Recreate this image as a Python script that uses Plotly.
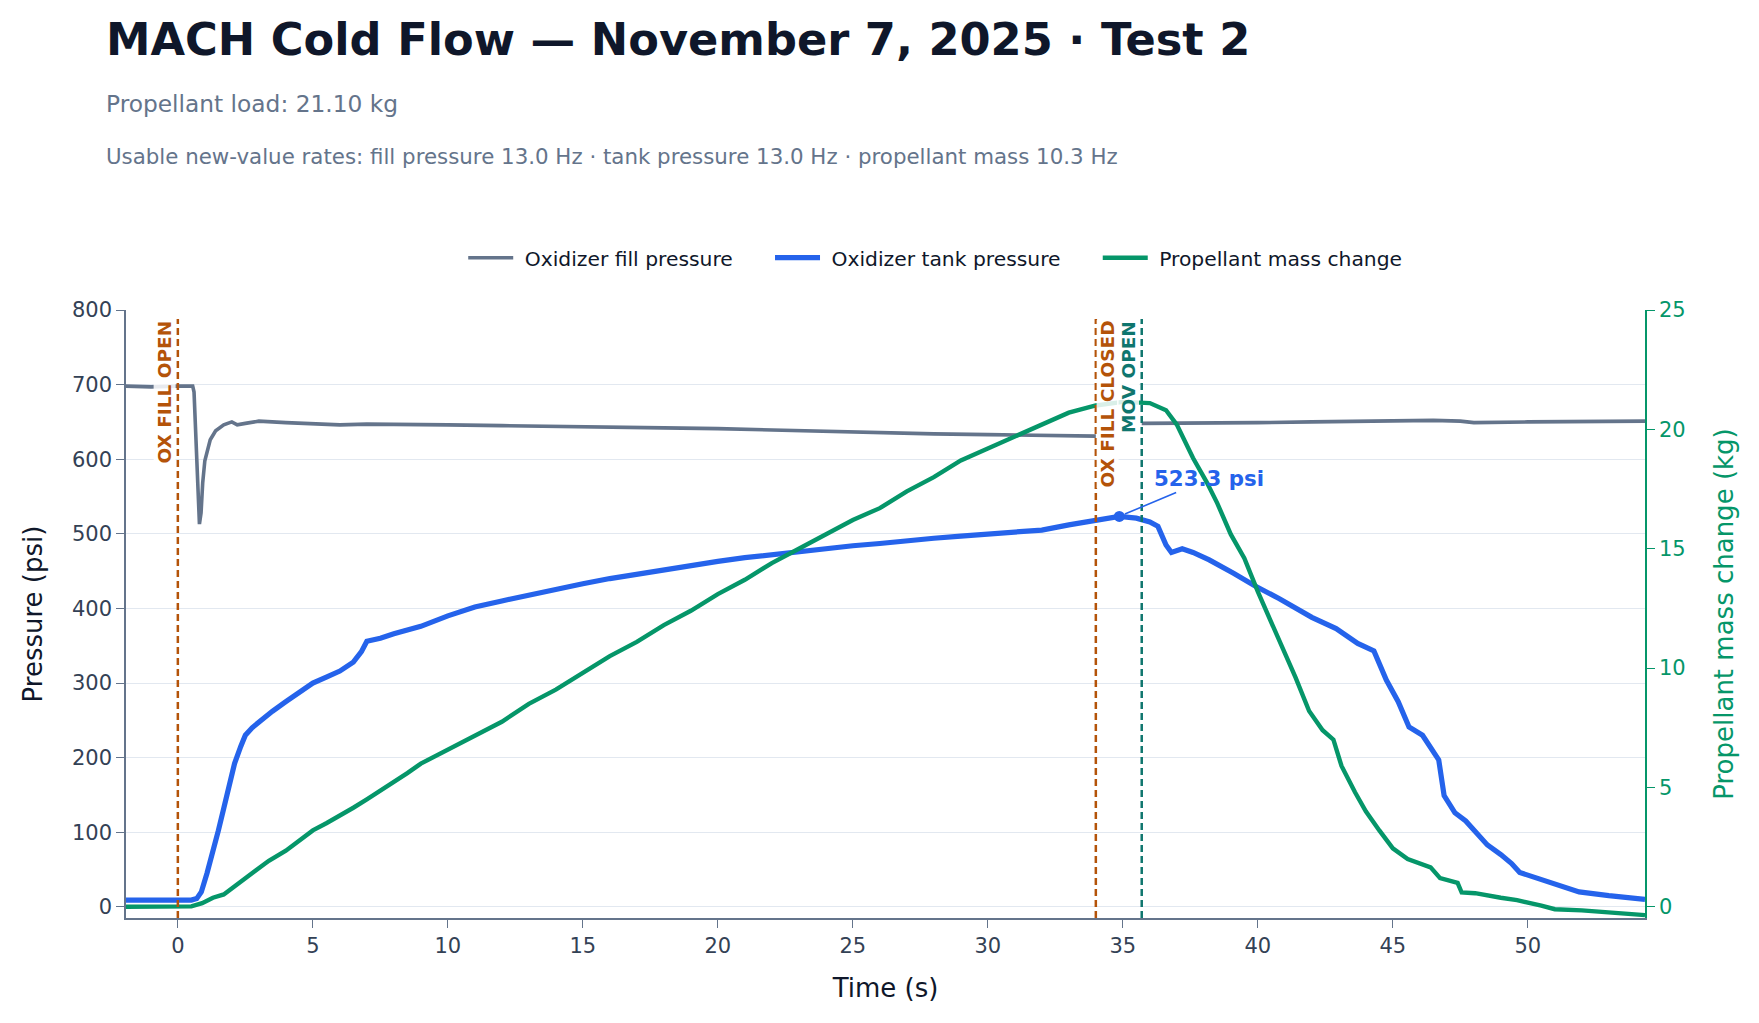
import plotly.graph_objects as go

# --- data ---
fill_t = [-1.95, -1.0, 0.0, 0.55, 0.6, 0.65, 0.72, 0.8, 0.86, 0.92, 1.0, 1.2, 1.4, 1.7, 2.0, 2.2,
          2.5, 3.0, 4.0, 5.0, 6.0, 7.0, 8.0, 10.0, 12.0, 15.0, 18.0, 20.0, 22.0, 25.0, 28.0, 30.0,
          32.0, 34.0, 34.01, 35.7, 37.0, 38.0, 40.0, 42.0, 45.0, 46.5, 47.5, 48.0, 50.0, 52.0, 54.34]
fill_psi = [698, 697, 698, 698, 690, 640, 560, 513, 528, 568, 598, 626, 638, 646, 650, 646,
            648, 651, 649, 647, 646, 647, 647, 646, 645, 644, 642, 641, 639, 636, 634, 633,
            632, 631, None, 648, 648, 649, 649, 650, 651, 652, 651, 649, 650, 650, 651]

tank_t = [-1.95, -1.0, 0.0, 0.5, 0.7, 0.87, 1.08, 1.29, 1.5, 1.7, 1.9, 2.1, 2.33, 2.5, 2.75,
          3.0, 3.5, 4.0, 4.5, 5.0, 5.5, 6.0, 6.5, 6.8, 7.0, 7.5, 8.0, 9.0, 10.0, 11.0, 12.0,
          13.0, 14.0, 15.0, 16.0, 17.0, 18.0, 19.0, 20.0, 21.0, 22.0, 23.0, 24.0, 25.0, 26.0,
          27.0, 28.0, 29.0, 30.0, 31.0, 32.0, 33.0, 34.0, 34.87, 35.5, 36.0, 36.3, 36.6, 36.8,
          37.2, 37.6, 38.2, 39.1, 39.9, 40.8, 41.5, 42.0, 42.9, 43.7, 44.3, 44.76, 45.2, 45.6,
          46.1, 46.7, 46.9, 47.3, 47.7, 48.1, 48.5, 49.0, 49.4, 49.7, 50.2, 51.0, 51.9, 53.0, 54.34]
tank_psi = [9, 9, 9, 9, 11, 20, 45, 72, 102, 132, 162, 192, 215, 230, 240,
            248, 262, 275, 287, 300, 308, 316, 328, 342, 356, 360, 366, 376, 390, 402, 410,
            418, 425, 433, 440, 446, 452, 458, 463, 468, 472, 477, 481, 484, 487,
            491, 494, 497, 500, 502, 505, 512, 518, 523.3, 521, 516, 510, 485, 475,
            480, 475, 465, 447, 430, 413, 398, 388, 373, 353, 343, 304, 275, 241,
            230, 197, 149, 126, 115, 100, 83, 70, 58, 46, 40, 32, 20, 15, 10]

mass_t = [-1.95, -1.0, 0.0, 0.5, 0.9, 1.3, 1.7, 2.1, 2.5, 2.95, 3.37, 4.0, 4.5, 5.0, 5.5, 6.0,
          6.5, 7.0, 7.5, 8.0, 8.5, 9.0, 9.5, 10.0, 11.0, 12.0, 13.0, 14.0, 15.0, 16.0, 17.0,
          18.0, 19.0, 20.0, 21.0, 22.0, 23.0, 24.0, 25.0, 26.0, 27.0, 28.0, 29.0, 30.0, 31.0,
          32.0, 33.0, 34.0, 35.0, 36.0, 36.6, 37.0, 37.6, 38.1, 38.5, 39.0, 39.5, 40.0, 40.5,
          41.0, 41.4, 41.9, 42.4, 42.8, 43.1, 43.6, 44.0, 44.5, 45.0, 45.55, 46.4, 46.75, 47.4,
          47.55, 48.05, 49.0, 49.6, 50.5, 51.0, 52.0, 53.0, 54.34]
mass_kg = [0.0, 0.0, 0.0, 0.02, 0.15, 0.38, 0.52, 0.85, 1.22, 1.55, 1.93, 2.35, 2.75, 3.2, 3.5, 3.8,
           4.15, 4.5, 4.85, 5.2, 5.6, 6.0, 6.3, 6.6, 7.2, 7.75, 8.5, 9.1, 9.8, 10.5, 11.1,
           11.8, 12.4, 13.1, 13.7, 14.4, 15.0, 15.6, 16.2, 16.7, 17.4, 18.0, 18.7, 19.2, 19.7,
           20.2, 20.7, 21.0, 21.15, 21.1, 20.8, 20.2, 18.8, 17.8, 16.9, 15.6, 14.6, 13.2, 11.9,
           10.7, 9.6, 8.2, 7.4, 7.0, 5.9, 4.8, 4.0, 3.2, 2.45, 2.0, 1.65, 1.2, 1.0,
           0.6, 0.57, 0.38, 0.28, 0.05, -0.1, -0.15, -0.25, -0.35]

events = [("OX FILL OPEN", 0.0, "#b45309", "right"),
          ("OX FILL CLOSED", 34.0, "#b45309", "left"),
          ("MOV OPEN", 35.7, "#0f766e", "right")]

peak_t = 34.87
peak_psi = 523.3

FONT = "DejaVu Sans"
SLATE = "#64748b"
BLUE = "#2563eb"
GREEN = "#059669"
INK = "#0f172a"
NB = "\u00a0"  # padding for legend spacing

fig = go.Figure()

fig.add_trace(go.Scatter(x=fill_t, y=fill_psi, mode="lines",
                         name=NB + "Oxidizer fill pressure" + NB * 5,
                         line=dict(color=SLATE, width=3.6), connectgaps=False))
fig.add_trace(go.Scatter(x=tank_t, y=tank_psi, mode="lines",
                         name=NB + "Oxidizer tank pressure" + NB * 5,
                         line=dict(color=BLUE, width=5.2)))
fig.add_trace(go.Scatter(x=mass_t, y=mass_kg, mode="lines",
                         name=NB + "Propellant mass change",
                         line=dict(color=GREEN, width=4.4), yaxis="y2"))
fig.add_trace(go.Scatter(x=[peak_t], y=[peak_psi], mode="markers", showlegend=False,
                         marker=dict(color=BLUE, size=11)))

# event markers
for label, t, color, side in events:
    fig.add_shape(type="line", x0=t, x1=t, xref="x", y0=0, y1=0.985, yref="paper",
                  line=dict(color=color, width=2.5, dash="7px,4px"))
    fig.add_annotation(x=t, xref="x", y=0.984, yref="paper", text=f"<b>{label}</b>",
                       textangle=-90, showarrow=False, xanchor=side, yanchor="top",
                       xshift=-2 if side == "right" else 0,
                       bgcolor="rgba(255,255,255,0.85)", borderpad=0,
                       font=dict(family=FONT, size=18.5, color=color))

fig.add_annotation(x=peak_t, y=peak_psi, text=f"<b>{peak_psi:.1f} psi</b>", showarrow=True,
                   arrowhead=0, arrowwidth=1.6, arrowcolor=BLUE, ax=90, ay=-38, standoff=6,
                   font=dict(family=FONT, size=21.3, color=BLUE))


def py(px):
    # page pixel row -> paper y (page has 8px body margin, plot top at 302, height 608)
    return 1 + (302 - (px - 8)) / 608


TX = -0.0147
fig.add_annotation(x=TX, y=py(40), xref="paper", yref="paper", xanchor="left",
                   yanchor="middle", showarrow=False,
                   text="<b>MACH Cold Flow — November 7, 2025 · Test 2</b>",
                   font=dict(family=FONT, size=44.7, color=INK))
fig.add_annotation(x=TX, y=py(104), xref="paper", yref="paper", xanchor="left",
                   yanchor="middle", showarrow=False, text="Propellant load: 21.10 kg",
                   font=dict(family=FONT, size=23.3, color=SLATE))
fig.add_annotation(x=TX, y=py(157), xref="paper", yref="paper", xanchor="left",
                   yanchor="middle", showarrow=False,
                   text="Usable new-value rates: fill pressure 13.0 Hz · tank pressure 13.0 Hz · "
                        "propellant mass 10.3 Hz",
                   font=dict(family=FONT, size=21.35, color=SLATE))

fig.update_layout(
    width=1743, height=1007,
    margin=dict(l=118, r=106, t=302, b=97, autoexpand=False),
    paper_bgcolor="white", plot_bgcolor="white",
    font=dict(family=FONT, size=21, color="#334155"),
    showlegend=True,
    legend=dict(orientation="h", x=0.222, xanchor="left", y=py(258), yanchor="middle",
                font=dict(family=FONT, size=20.3, color=INK), itemwidth=45,
                bgcolor="rgba(0,0,0,0)"),
    xaxis=dict(range=[-1.92, 54.34], dtick=5, showgrid=False, zeroline=False,
               showline=True, linecolor=SLATE, linewidth=1.5,
               ticks="outside", ticklen=8, tickcolor=SLATE,
               tickfont=dict(size=21, color="#334155"),
               title=dict(text="Time (s)", standoff=22, font=dict(size=26, color=INK))),
    yaxis=dict(range=[-15, 800], dtick=100, showgrid=True, gridcolor="#e2e8f0", gridwidth=1,
               zeroline=False, showline=True, linecolor=SLATE, linewidth=1.5,
               ticks="outside", ticklen=8, tickcolor=SLATE,
               tickfont=dict(size=21, color="#334155"),
               title=dict(text="Pressure (psi)", standoff=22, font=dict(size=26, color=INK))),
    yaxis2=dict(range=[-15 / 32, 25], dtick=5, overlaying="y", side="right", showgrid=False,
                zeroline=False, showline=True, linecolor=GREEN, linewidth=1.5,
                ticks="outside", ticklen=8, tickcolor=GREEN,
                tickfont=dict(size=21, color=GREEN),
                title=dict(text="Propellant mass change (kg)", standoff=30,
                           font=dict(size=26, color=GREEN))),
)

fig.write_html("out.html")
